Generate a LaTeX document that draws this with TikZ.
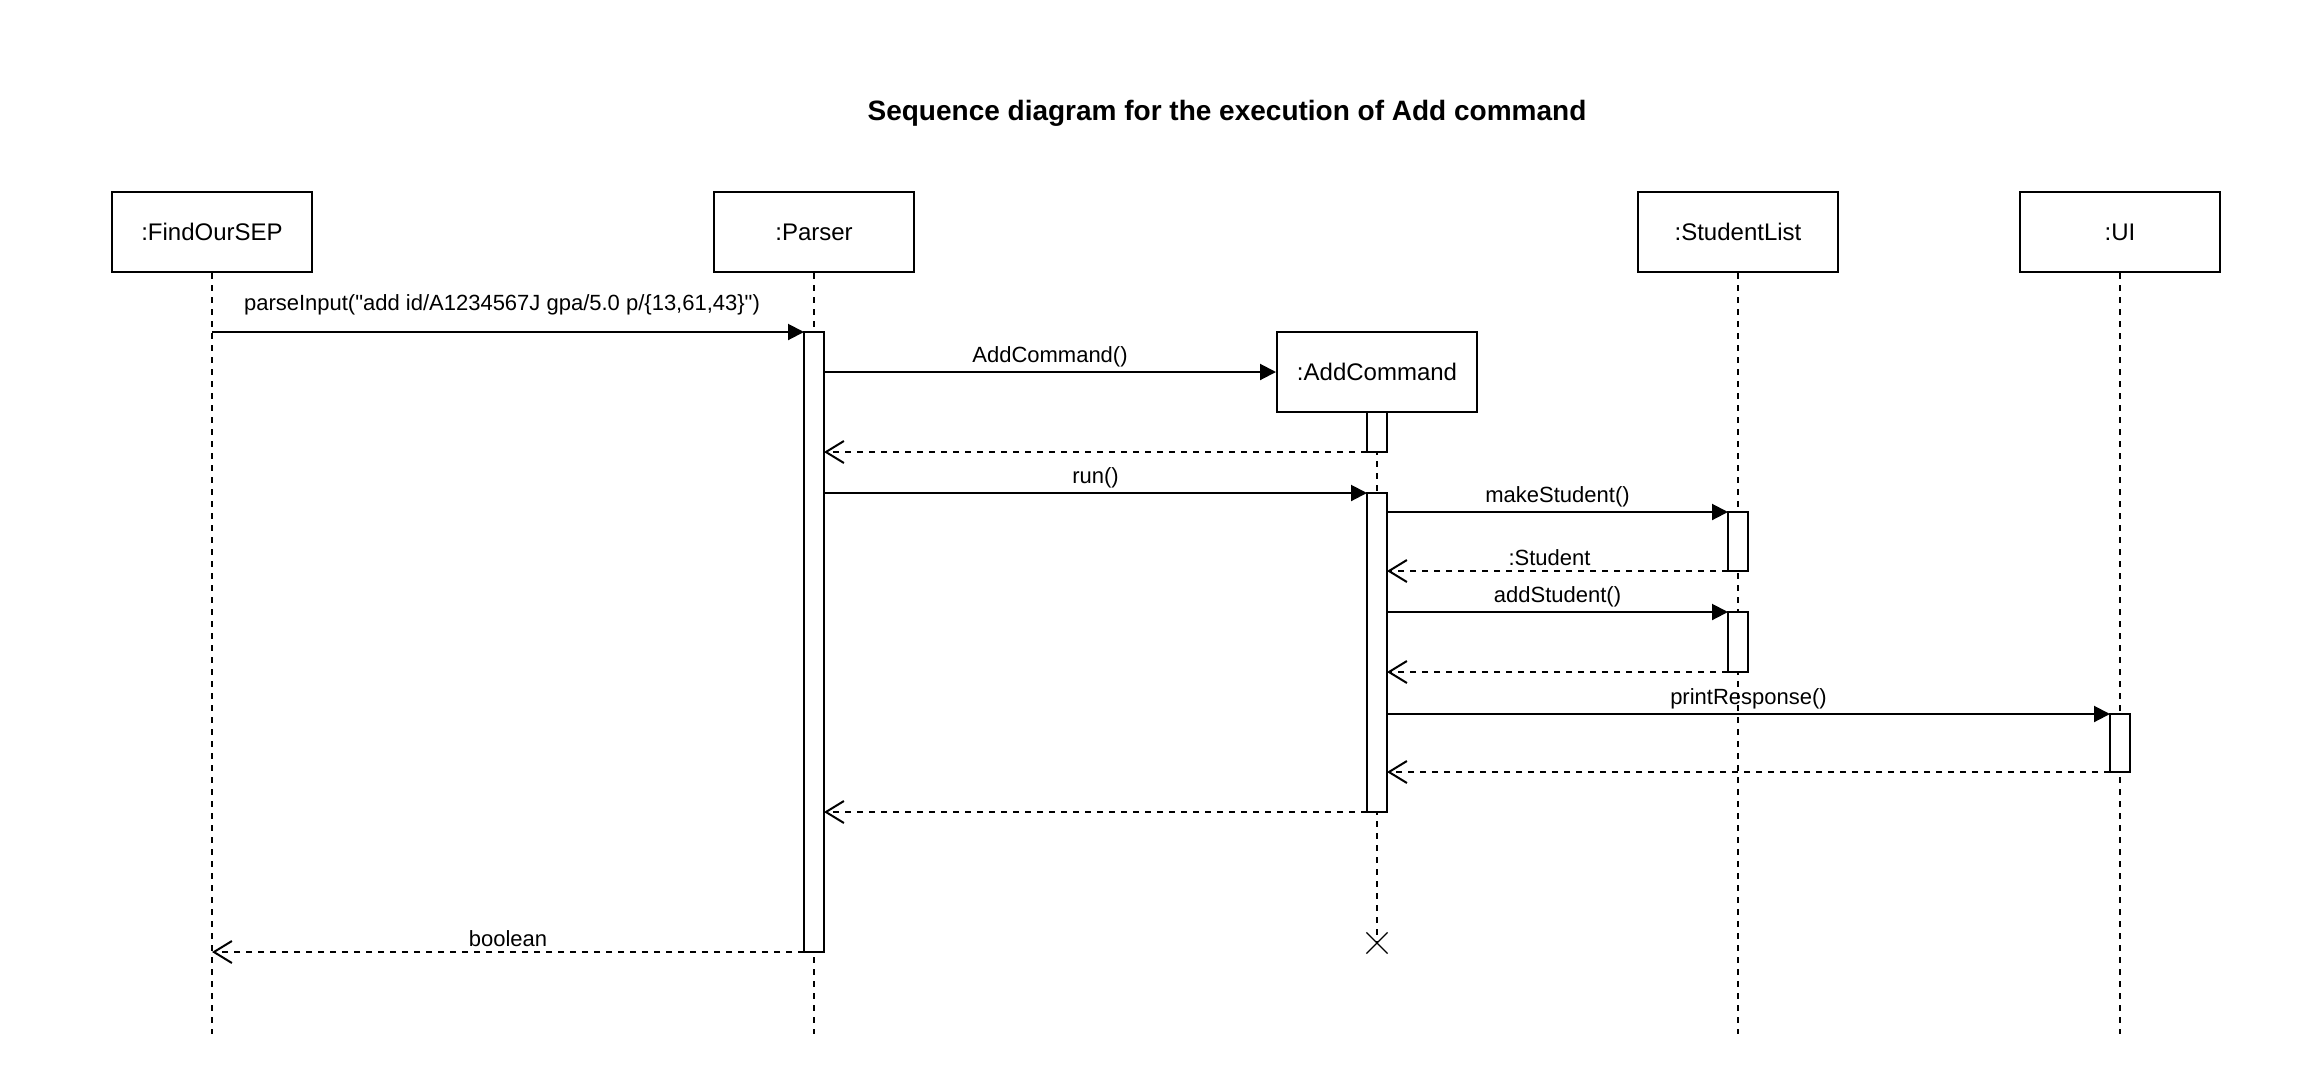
\documentclass[tikz,border=0pt]{standalone}
\usepackage{fontspec}
\setmainfont{Liberation Sans}
\usetikzlibrary{arrows.meta}
\usetikzlibrary{shapes.misc}

\begin{document}
\begin{tikzpicture}[
        x=0.5pt, y=-0.5pt,
        line width=1pt,
        H/.style={draw, minimum width=100pt, minimum height=40pt, inner sep=0pt,
            font=\fontsize{12}{14}\selectfont},
        A/.style={draw, fill=white, minimum width=10pt, inner sep=0pt, outer sep=0pt},
        lifeline/.style={dash pattern=on 3pt off 3pt},
        call/.style={-{Triangle[length=8pt, width=8pt]}},
        ret/.style={lifeline, -{Straight Barb[length=9pt, width=11pt]}},
        msg/.style={midway, above, inner sep=2pt, font=\fontsize{11}{13}\selectfont}
    ]

    \def\ybot{1034}

    \useasboundingbox (0,0) rectangle (2307,1088);

    \node[font=\bfseries\fontsize{14}{17}\selectfont] (title) at (1227,113)
        {Sequence diagram for the execution of Add command};

    \node[H] (fos) at (212,232) {:FindOurSEP};
    \node[H] (parser) at (814,232) {:Parser};
    \node[H] (slist) at (1738,232) {:StudentList};
    \node[H] (ui) at (2120,232) {:UI};
    \node[H] (addcmd) at (1377,372) {:AddCommand};
    \node[draw, cross out, minimum size=10pt, inner sep=0pt, line width=0.6pt] (kill) at (1377,943) {};

    % lifelines
    \foreach \n in {fos,parser,slist,ui}{
        \coordinate (\n end) at (\n |- 0,\ybot);
        \draw[lifeline] (\n) -- (\n end);
    }
    \draw[lifeline] (addcmd) -- (kill.center);

    % activations
    \node[A, minimum height=310pt] (pact) at (814,642) {};
    \node[A, minimum height=20pt] (ac1) at (1377,432) {};
    \node[A, minimum height=159.5pt] (ac2) at (1377,652.5) {};
    \node[A, minimum height=29.5pt] (sl1) at (1738,541.5) {};
    \node[A, minimum height=30pt] (sl2) at (1738,642) {};
    \node[A, minimum height=29pt] (ui1) at (2120,743) {};

    % messages
    \draw[call] (fos |- pact.north) -- (pact.north west)
        node[msg, inner sep=8pt, xshift=-3pt]
        {parseInput(\textquotedbl add id/A1234567J gpa/5.0 p/\{13,61,43\}\textquotedbl)};
    \draw[call] (pact.east |- addcmd) -- (addcmd.west) node[msg] {AddCommand()};
    \draw[ret] (ac1.south west) -- (pact.east |- ac1.south);
    \draw[call] (pact.east |- ac2.north) -- (ac2.north west) node[msg] {run()};
    \draw[call] (ac2.east |- sl1.north) -- (sl1.north west) node[msg] {makeStudent()};
    \draw[ret] (sl1.south west) -- (ac2.east |- sl1.south) node[msg, xshift=-4pt] {:Student};
    \draw[call] (ac2.east |- sl2.north) -- (sl2.north west) node[msg] {addStudent()};
    \draw[ret] (sl2.south west) -- (ac2.east |- sl2.south);
    \draw[call] (ac2.east |- ui1.north) -- (ui1.north west) node[msg] {printResponse()};
    \draw[ret] (ui1.south west) -- (ac2.east |- ui1.south);
    \draw[ret] (ac2.south west) -- (pact.east |- ac2.south);
    \draw[ret] (pact.south west) -- (fos |- pact.south) node[msg] {boolean};
\end{tikzpicture}
\end{document}
